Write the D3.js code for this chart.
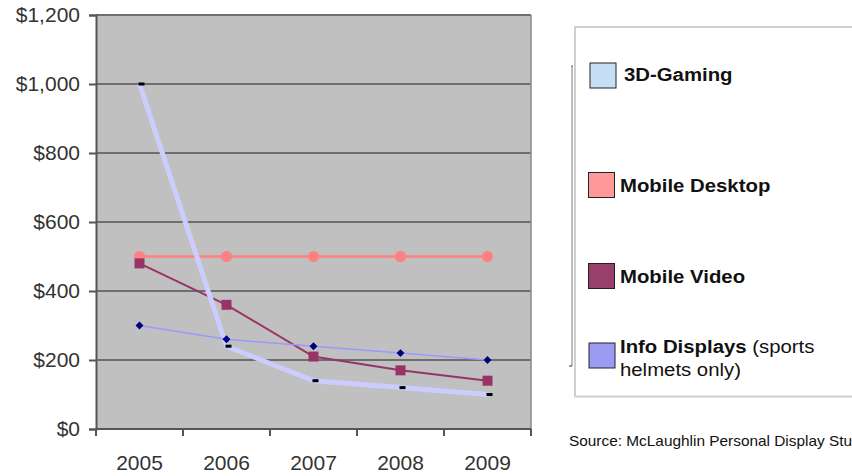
<!DOCTYPE html>
<html>
<head>
<meta charset="utf-8">
<script src="https://cdn.jsdelivr.net/npm/d3@7"></script>
<style>
  html, body { margin: 0; padding: 0; background: #fff; }
  svg { display: block; font-family: "Liberation Sans", Arial, sans-serif; }
</style>
</head>
<body>
<svg id="chart" width="852" height="476"></svg>
<script>
// Price per unit by year, four personal display segments
const years = ["2005", "2006", "2007", "2008", "2009"];
const gaming3D = [1000, 240, 140, 120, 100];
const mobileDesktop = [500, 500, 500, 500, 500];
const mobileVideo = [480, 360, 210, 170, 140];
const infoDisplays = [300, 260, 240, 220, 200];
const yTicks = [0, 200, 400, 600, 800, 1000, 1200];
const legendItems = ["3D-Gaming", "Mobile Desktop", "Mobile Video", "Info Displays"];
const sourceNote = "Source: McLaughlin Personal Display Stu";

const svg = d3.select("#chart");
const plot = { left: 96, right: 531, top: 15, bottom: 429 };

const x = d3.scaleBand().domain(years).range([plot.left, plot.right]).padding(0);
const y = d3.scaleLinear().domain([0, 1200]).range([plot.bottom, plot.top]);
const cx = d => x(d) + x.bandwidth() / 2;

// plot background
svg.append("rect")
  .attr("x", plot.left).attr("y", plot.top)
  .attr("width", plot.right - plot.left).attr("height", plot.bottom - plot.top)
  .attr("fill", "#c0c0c0");

// horizontal gridlines
svg.append("g").selectAll("line").data(yTicks.filter(t => t > 0)).join("line")
  .attr("x1", plot.left).attr("x2", plot.right)
  .attr("y1", d => y(d)).attr("y2", d => y(d))
  .attr("stroke", "#6e6e6e").attr("stroke-width", 2);

// right border
svg.append("line")
  .attr("x1", plot.right).attr("x2", plot.right)
  .attr("y1", plot.top).attr("y2", plot.bottom)
  .attr("stroke", "#8a8a8a").attr("stroke-width", 1.5);

// y axis
const yAxis = d3.axisLeft(y).tickValues(yTicks).tickSize(7).tickPadding(9)
  .tickFormat(d => "$" + d3.format(",")(d));
const gy = svg.append("g").attr("transform", `translate(${plot.left},0)`).call(yAxis);
gy.select(".domain").attr("stroke", "#555").attr("stroke-width", 2);
gy.selectAll(".tick line").attr("stroke", "#555").attr("stroke-width", 2);
gy.selectAll(".tick text").attr("font-size", 21).attr("fill", "#333")
  .attr("font-family", "Liberation Sans, Arial, sans-serif");

// x axis: ticks at band boundaries, labels at band centres
const gx = svg.append("g").attr("transform", `translate(0,${plot.bottom})`);
gx.append("line").attr("x1", plot.left).attr("x2", plot.right)
  .attr("stroke", "#555").attr("stroke-width", 2);
const bounds = years.map(d => x(d)).concat([plot.right]);
gx.selectAll("line.tk").data(bounds).join("line").attr("class", "tk")
  .attr("x1", d => d).attr("x2", d => d).attr("y1", 0).attr("y2", 7)
  .attr("stroke", "#555").attr("stroke-width", 2);
gx.selectAll("text").data(years).join("text")
  .attr("x", d => cx(d)).attr("y", 41)
  .attr("text-anchor", "middle").attr("font-size", 21).attr("fill", "#333")
  .text(d => d);

const line = d3.line().x((d, i) => cx(years[i])).y(d => y(d));

// lines
svg.append("path").datum(mobileDesktop).attr("d", line)
  .attr("fill", "none").attr("stroke", "#ff8080").attr("stroke-width", 2.5);
svg.append("path").datum(mobileVideo).attr("d", line)
  .attr("fill", "none").attr("stroke", "#993366").attr("stroke-width", 2);
svg.append("path").datum(gaming3D).attr("d", line)
  .attr("fill", "none").attr("stroke", "#ccccff").attr("stroke-width", 5)
  .attr("stroke-linejoin", "round");
svg.append("path").datum(infoDisplays).attr("d", line)
  .attr("fill", "none").attr("stroke", "#9999ff").attr("stroke-width", 1.5);

// markers
svg.append("g").selectAll("circle").data(mobileDesktop).join("circle")
  .attr("cx", (d, i) => cx(years[i])).attr("cy", d => y(d)).attr("r", 5.5)
  .attr("fill", "#ff8080");
svg.append("g").selectAll("rect").data(mobileVideo).join("rect")
  .attr("x", (d, i) => cx(years[i]) - 5).attr("y", d => y(d) - 5)
  .attr("width", 10).attr("height", 10).attr("fill", "#993366");
svg.append("g").selectAll("rect").data(gaming3D).join("rect")
  .attr("x", (d, i) => cx(years[i]) - 1).attr("y", d => y(d) - 1.5)
  .attr("width", 6).attr("height", 3).attr("fill", "#000");
svg.append("g").selectAll("rect").data(infoDisplays).join("rect")
  .attr("transform", (d, i) => `translate(${cx(years[i])},${y(d)}) rotate(45)`)
  .attr("x", -2.8).attr("y", -2.8).attr("width", 5.6).attr("height", 5.6)
  .attr("fill", "#000080");

// legend frame
svg.append("rect").attr("x", 575).attr("y", 27).attr("width", 300).attr("height", 369.5)
  .attr("fill", "#fff").attr("stroke", "#cfcfcf").attr("stroke-width", 2);
svg.append("line").attr("x1", 572).attr("x2", 572).attr("y1", 66).attr("y2", 366)
  .attr("stroke", "#bdbdbd").attr("stroke-width", 2);
svg.append("line").attr("x1", 569).attr("x2", 572).attr("y1", 366).attr("y2", 366)
  .attr("stroke", "#333").attr("stroke-width", 1);
svg.append("line").attr("x1", 571).attr("x2", 573).attr("y1", 66).attr("y2", 66)
  .attr("stroke", "#666").attr("stroke-width", 1);

const swatchColors = ["#c6dff7", "#ff9999", "#993f6b", "#9b9bf3"];
const swatchY = [63, 172.5, 263.5, 343];
const swatchX = [590, 588.5, 588.5, 589];
const textX = [624, 620, 620, 620];
const textY = [81.5, 192.5, 283.5, 353];

const lg = svg.append("g");
legendItems.forEach((name, i) => {
  lg.append("rect").attr("x", swatchX[i]).attr("y", swatchY[i])
    .attr("width", 26).attr("height", 25)
    .attr("fill", swatchColors[i]).attr("stroke", "#222").attr("stroke-width", 1);
  const t = lg.append("text").attr("x", textX[i]).attr("y", textY[i])
    .attr("font-size", 18.5).attr("fill", "#111")
    .attr("transform", `translate(${textX[i]},0) scale(1.1,1) translate(${-textX[i]},0)`);
  t.append("tspan").attr("font-weight", "bold").text(name);
  if (i === 3) {
    t.append("tspan").text(" (sports");
  }
});
lg.append("text").attr("x", 620).attr("y", 376.5)
  .attr("font-size", 18.5).attr("fill", "#111")
  .attr("transform", "translate(620,0) scale(1.1,1) translate(-620,0)")
  .text("helmets only)");

// source note
svg.append("text").attr("x", 569).attr("y", 446.5)
  .attr("font-size", 14).attr("fill", "#111")
  .attr("transform", "translate(569,0) scale(1.1,1) translate(-569,0)")
  .text(sourceNote);
</script>
</body>
</html>
